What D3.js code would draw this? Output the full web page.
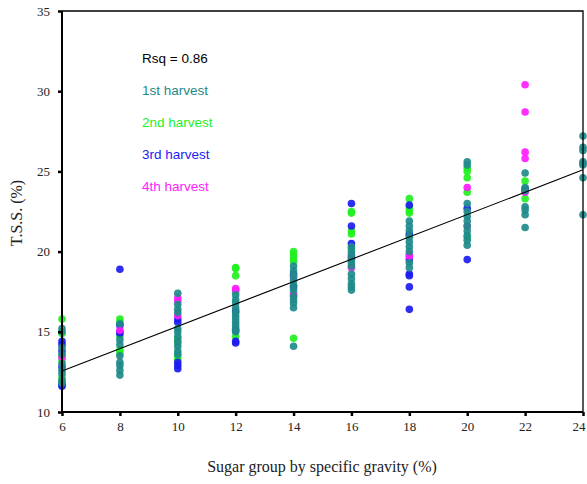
<!DOCTYPE html>
<html>
<head>
<meta charset="utf-8">
<script src="https://cdn.jsdelivr.net/npm/d3@7"></script>
<style>
  html, body { margin: 0; padding: 0; background: #fff; }
  svg { display: block; }
</style>
</head>
<body>
<svg id="chart" width="587" height="484"></svg>
<script>
// Sugar groups (specific gravity, %) on the x axis
const sugarGroups = [6, 8, 10, 12, 14, 16, 18, 20, 22, 24];

// T.S.S. (%) readings per sugar group, one array per harvest
const harvest1 = [
  [15.2, 15.0, 14.0, 13.6, 13.0, 12.6, 12.4, 12.0, 11.8],
  [15.5, 14.5, 14.2, 13.5, 13.1, 12.9, 12.6, 12.3],
  [17.4, 16.7, 16.4, 16.2, 15.2, 15.0, 14.7, 14.4, 14.1, 13.8, 13.6],
  [17.3, 17.0, 16.8, 16.5, 16.2, 16.0, 15.8, 15.6, 15.4, 15.2, 15.0],
  [19.1, 18.8, 18.5, 18.2, 17.9, 17.6, 17.2, 17.0, 16.8, 16.5, 14.1],
  [20.3, 20.0, 19.8, 19.5, 19.3, 19.1, 18.6, 18.3, 18.0, 17.8, 17.6],
  [21.9, 21.6, 21.3, 20.9, 20.6, 20.3, 20.0, 19.3, 19.0],
  [25.6, 25.4, 23.0, 22.5, 22.2, 21.9, 21.6, 21.3, 21.0, 20.7, 20.4],
  [24.9, 24.0, 23.8, 22.8, 22.6, 22.3, 21.5],
  [27.2, 26.5, 26.3, 25.6, 25.5, 25.4, 24.6, 22.3]
];
const harvest2 = [
  [15.8, 14.9, 13.5, 13.2, 12.2, 11.9],
  [15.8, 15.6, 14.7, 13.9, 13.7],
  [14.6, 14.3, 13.5, 13.3],
  [19.0, 18.95, 18.5, 17.5, 14.7],
  [20.0, 19.8, 19.6, 19.4, 17.4, 14.6],
  [22.5, 22.4, 21.3, 21.1, 20.2],
  [23.3, 22.8, 22.6, 22.4, 21.0],
  [25.2, 25.0, 24.6, 23.7, 20.9],
  [24.4, 23.3],
  []
];
const harvest3 = [
  [14.4, 14.2, 13.8, 12.8, 11.7, 11.6],
  [18.9, 15.4, 15.0, 14.9],
  [15.8, 15.6, 13.1, 12.9, 12.7],
  [16.3, 15.1, 14.4, 14.3],
  [18.6, 17.8],
  [23.0, 21.6, 20.5, 19.6],
  [22.9, 21.1, 19.5, 18.6, 18.5, 17.8, 16.4],
  [22.7, 19.5],
  [23.9],
  []
];
const harvest4 = [
  [13.4],
  [15.1],
  [17.1, 16.9, 16.0],
  [17.7, 17.6],
  [18.4, 17.3],
  [19.0, 19.7],
  [19.7, 19.8],
  [24.0, 21.6],
  [30.4, 28.7, 26.2, 25.8, 23.7],
  []
];

const harvestNames = ["1st harvest", "2nd harvest", "3rd harvest", "4th harvest"];
const harvestColors = ["#1f8a8a", "#1ff01f", "#1c1cf0", "#ff1cff"];

// Linear fit of T.S.S. on sugar group: [intercept, slope]
const fitCoefficients = [8.37, 0.697];
const rsqLabel = "Rsq = 0.86";

const xTicks = [6, 8, 10, 12, 14, 16, 18, 20, 22, 24];
const yTicks = [10, 15, 20, 25, 30, 35];

const svg = d3.select("#chart");
const plotLeft = 62, plotRight = 583, plotTop = 11, plotBottom = 412;

const x = d3.scaleLinear().domain([6, 24]).range([plotLeft, plotRight]);
const y = d3.scaleLinear().domain([10, 35]).range([plotBottom, plotTop]);

// Scatter points, 1st harvest drawn last
const allSeries = [harvest1, harvest2, harvest3, harvest4];
const drawOrder = [1, 2, 3, 0];
drawOrder.forEach(si => {
  const pts = [];
  allSeries[si].forEach((vals, gi) => vals.forEach(v => pts.push({ g: sugarGroups[gi], v })));
  svg.append("g")
    .selectAll("circle")
    .data(pts)
    .join("circle")
    .attr("cx", d => x(d.g))
    .attr("cy", d => y(d.v))
    .attr("r", 3.8)
    .attr("fill", harvestColors[si])
    .attr("fill-opacity", 0.92);
});

// Fit line
const fitX = [6, 24];
svg.append("path")
  .datum(fitX)
  .attr("d", d3.line().x(d => x(d)).y(d => y(fitCoefficients[0] + fitCoefficients[1] * d)))
  .attr("stroke", "#000")
  .attr("stroke-width", 1.1)
  .attr("fill", "none");

// Frame (top and right edges)
svg.append("path")
  .attr("d", `M${plotLeft},${plotTop}H${plotRight}V${plotBottom}`)
  .attr("stroke", "#000")
  .attr("stroke-width", 1.3)
  .attr("fill", "none");

// Axes
const serif = "'Liberation Serif', 'DejaVu Serif', serif";
const xAxis = svg.append("g")
  .attr("transform", `translate(0,${plotBottom})`)
  .call(d3.axisBottom(x).tickValues(xTicks).tickSize(4).tickPadding(6).tickFormat(d3.format("d")));
const yAxis = svg.append("g")
  .attr("transform", `translate(${plotLeft},0)`)
  .call(d3.axisLeft(y).tickValues(yTicks).tickSize(4).tickPadding(8).tickFormat(d3.format("d")));

[xAxis, yAxis].forEach(ax => {
  ax.select(".domain").attr("stroke", "#000").attr("stroke-width", 2);
  ax.selectAll(".tick line").attr("stroke", "#000").attr("stroke-width", 2.5);
  ax.selectAll(".tick text").attr("font-family", serif).attr("font-size", 13).attr("fill", "#222");
});
xAxis.select(".domain").attr("d", `M${plotLeft},0H${plotRight}`);
yAxis.select(".domain").attr("d", `M0,${plotTop}V${plotBottom}`);
// keep the last x label inside the canvas
xAxis.selectAll(".tick text").filter(d => d === 24).attr("text-anchor", "end").attr("dx", "0.15em");

// Axis titles
svg.append("text")
  .attr("x", 322).attr("y", 472)
  .attr("text-anchor", "middle")
  .attr("font-family", serif).attr("font-size", 16).attr("fill", "#222")
  .text("Sugar group by specific gravity (%)");

svg.append("text")
  .attr("transform", "translate(22,213) rotate(-90)")
  .attr("text-anchor", "middle")
  .attr("font-family", serif).attr("font-size", 16).attr("fill", "#222")
  .text("T.S.S. (%)");

// Legend
const sans = "'Liberation Sans', Arial, sans-serif";
svg.append("text")
  .attr("x", 142).attr("y", 63)
  .attr("font-family", sans).attr("font-size", 13.5).attr("fill", "#000")
  .text(rsqLabel);
harvestNames.forEach((name, i) => {
  svg.append("text")
    .attr("x", 142).attr("y", 95 + i * 32)
    .attr("font-family", sans).attr("font-size", 13.5).attr("fill", harvestColors[i])
    .text(name);
});
</script>
</body>
</html>
